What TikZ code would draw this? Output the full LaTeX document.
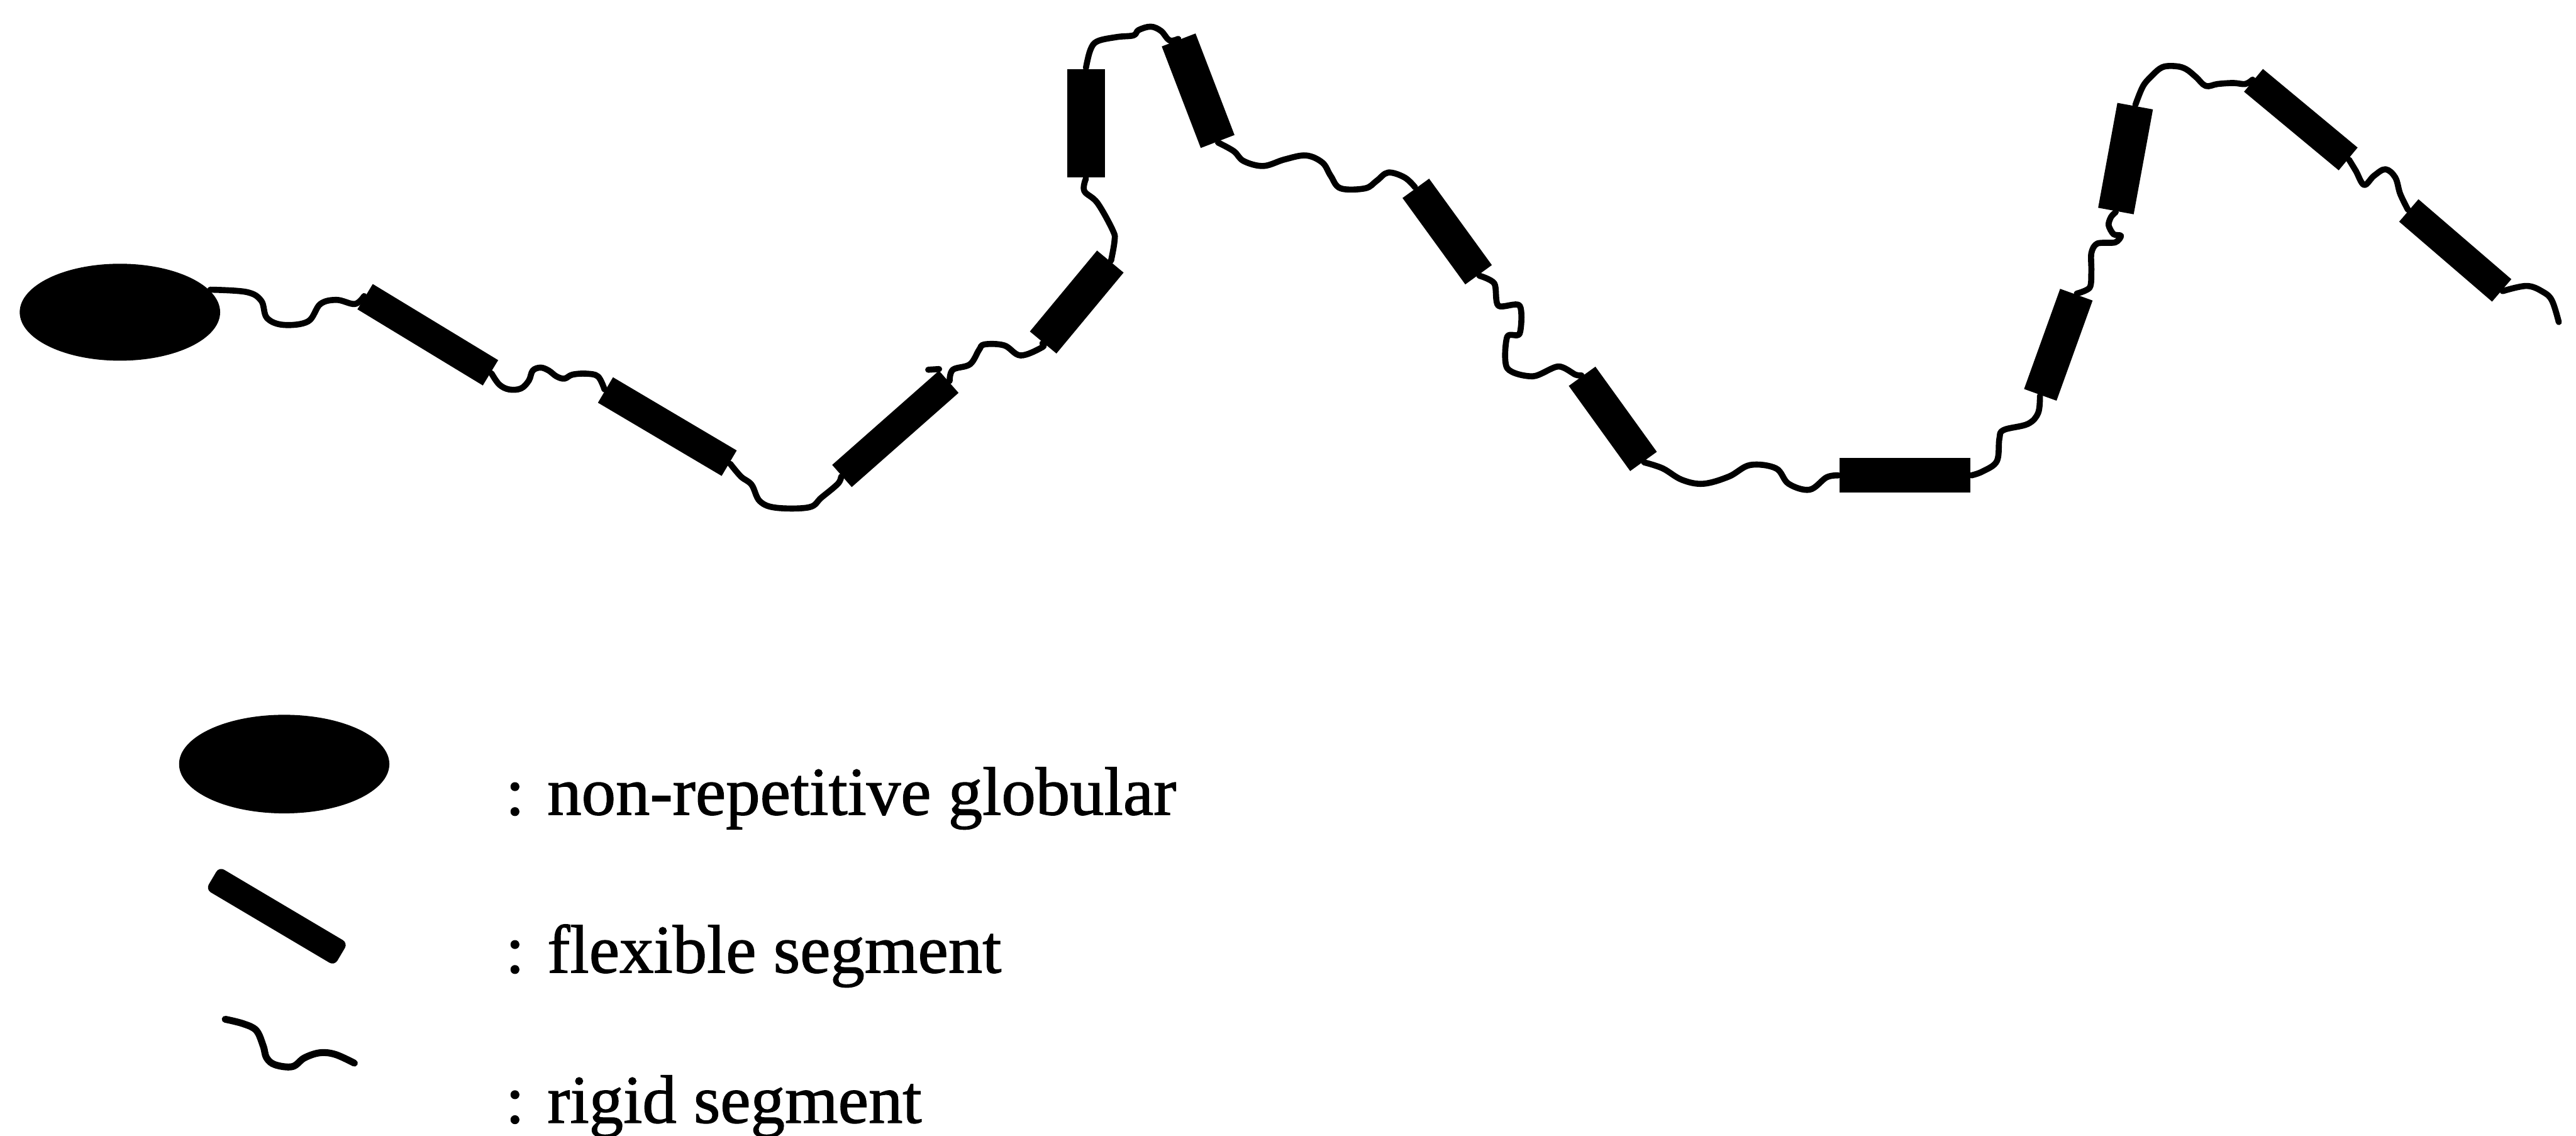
\documentclass[tikz,border=0pt]{standalone}
\usepackage{fontspec}
\setmainfont{Liberation Serif}[FakeBold=1.2]
\usetikzlibrary{shapes.geometric}

\tikzset{
  globule/.style={ellipse, fill=black, draw=none, inner sep=0pt},
  helix/.style={rectangle, fill=black, draw=none, inner sep=0pt, minimum height=0.19cm},
  coil/.style={line width=1.05pt, line cap=round, line join=round},
  legendtext/.style={anchor=base west, inner sep=0pt, font=\fontsize{11.85pt}{14pt}\selectfont}
}

\begin{document}
\begin{tikzpicture}[x=0.1mm, y=-0.1mm]
  \useasboundingbox (0,0) rectangle (1568,691);

  % ---- protein chain ----
  \node[globule, minimum width=1.22cm, minimum height=0.59cm] (glob) at (73,190) {};

  \node[helix, minimum width=0.893cm, minimum height=0.18cm, rotate=-31.25] (b1) at (260.4,203.7) {};
  \node[helix, minimum width=0.875cm, minimum height=0.18cm, rotate=-30.6]  (b2) at (406.2,259.6) {};
  \node[helix, minimum width=0.867cm, minimum height=0.18cm, rotate=41.4]   (b3) at (545,261) {};
  \node[helix, minimum width=0.64cm,  minimum height=0.21cm, rotate=50.3]   (b4) at (655.4,183.8) {};
  \node[helix, minimum width=0.66cm,  minimum height=0.23cm, rotate=90]     (b5) at (661,75) {};
  \node[helix, minimum width=0.662cm, minimum height=0.22cm, rotate=-69]    (b6) at (729.3,55.2) {};
  \node[helix, minimum width=0.65cm,  minimum height=0.20cm, rotate=-54]    (b7) at (880.9,140.9) {};
  \node[helix, minimum width=0.639cm, minimum height=0.20cm, rotate=-54.2]  (b8) at (981.7,254.9) {};
  \node[helix, minimum width=0.795cm, minimum height=0.21cm, rotate=0]      (b9) at (1159.5,289.3) {};
  \node[helix, minimum width=0.648cm, minimum height=0.21cm, rotate=70.2]   (b10) at (1252.9,209.8) {};
  \node[helix, minimum width=0.649cm, minimum height=0.22cm, rotate=79.6]   (b11) at (1293.8,96.5) {};
  \node[helix, minimum width=0.749cm, minimum height=0.18cm, rotate=-39.7]  (b12) at (1400.5,72.8) {};
  \node[helix, minimum width=0.746cm, minimum height=0.18cm, rotate=-40.7]  (b13) at (1494.5,152.4) {};
  \coordinate (tail) at (1557.5,196);
  \coordinate (b3tick) at (565,225);

  % linkers between the segments
  \draw[coil] plot[smooth, tension=0.6] coordinates {(glob.14) (150,177.7) (159,183) (162.5,193.5) (172.5,197.7) (187.5,195.6) (195,185) (205,182.5) (216,185) (b1.west)};
  \draw[coil] plot[smooth, tension=0.6] coordinates {(b1.east) (303.9,234) (309.9,237) (317.1,236.4) (321.9,231.6) (324.3,225.5) (329.1,223.7) (334,225.5) (338.8,229.1) (343.6,230.4) (348.4,228) (356.8,227.4) (364,229.1) (b2.west)};
  \draw[coil] plot[smooth, tension=0.6] coordinates {(b2.east) (451,290) (457.5,295) (462.5,305) (472.5,309) (492.5,308.7) (500,302.8) (510,294.4) (b3.west)};
  \draw[coil] (b3tick) -- (b3.north east);
  \draw[coil] plot[smooth, tension=0.6] coordinates {(b3.east) (580,225) (590.4,221.7) (595.9,213) (599.2,209.6) (611.3,210.2) (621.2,216.3) (634.4,211.3) (b4.west)};
  \draw[coil] plot[smooth, tension=0.6] coordinates {(b4.east) (678.4,146.6) (677.4,140.3) (668,123.5) (660,116.2) (b5.west)};
  \draw[coil] plot[smooth, tension=0.6] coordinates {(b5.east) (663.7,30.4) (668,25.1) (680,22.5) (690,21.5) (693,18.3) (700.4,16.2) (706.7,18.8) (711.9,24.6) (b6.west)};
  \draw[coil] plot[smooth, tension=0.6] coordinates {(b6.east) (751,92) (757,98) (769,101) (782,97) (795,94.6) (805,99) (810,107) (816,114.6) (831,114.6) (838,110) (845,105) (855,108) (b7.west)};
  \draw[coil] plot[smooth, tension=0.5] coordinates {(b7.east) (909.6,172.5) (912,186) (925,186) (925,203) (917.4,205) (917.4,224) (933,229) (948.5,223) (959,228) (b8.west)};
  \draw[coil] plot[smooth, tension=0.6] coordinates {(b8.east) (1012,285) (1023.8,292) (1036.8,294.4) (1052.4,290) (1065.3,283) (1081,285) (1088.7,294.4) (1101.5,298) (1111.8,290.5) (b9.west)};
  \draw[coil] plot[smooth, tension=0.6] coordinates {(b9.east) (1207,286.8) (1215.5,280.6) (1217,267) (1219.6,261.7) (1234.3,258) (1240.6,251.3) (b10.west)};
  \draw[coil] plot[smooth, tension=0.5] coordinates {(b10.east) (1272,175) (1273,165) (1273,154) (1276.6,148.2) (1287.5,147.5) (1291,143.5) (1286.5,142.5) (1283.5,137) (1285,132) (b11.west)};
  \draw[coil] plot[smooth, tension=0.6] coordinates {(b11.east) (1304.2,52.9) (1309,46.9) (1316.2,40.9) (1324.6,40.3) (1330.7,42.1) (1336.7,46.9) (1342.7,52.3) (1349.9,51.1) (1359.5,50.5) (1366.7,51.1) (b12.west)};
  \draw[coil] plot[smooth, tension=0.6] coordinates {(b12.east) (1434,104) (1439,112.5) (1445,107) (1452,103) (1458,108) (1461,118) (b13.west)};
  \draw[coil] plot[smooth, tension=0.6] coordinates {(b13.east) (1538,174) (1548,177.7) (1553.4,183) (tail)};

  % ---- legend ----
  \node[globule, minimum width=1.28cm, minimum height=0.60cm] (keyglob) at (173,465) {};
  \node[helix, minimum width=0.91cm, minimum height=0.16cm, rounded corners=1pt, rotate=-30.65] (keyhelix) at (168.5,557.6) {};
  \draw[coil, line width=1.2pt] plot[smooth, tension=0.6] coordinates {(137.1,620.3) (148,623) (156,627.1) (160.2,636.5) (162.3,643.8) (167.5,648) (178,649.1) (185.3,643.8) (194.7,640.7) (204.1,641.7) (215.7,647)};

  \node[legendtext] (t1) at (307,495.8) {: non-repetitive globular};
  \node[legendtext] (t2) at (307,591.9) {: flexible segment};
  \node[legendtext] (t3) at (307,683.3) {: rigid segment};
\end{tikzpicture}
\end{document}
